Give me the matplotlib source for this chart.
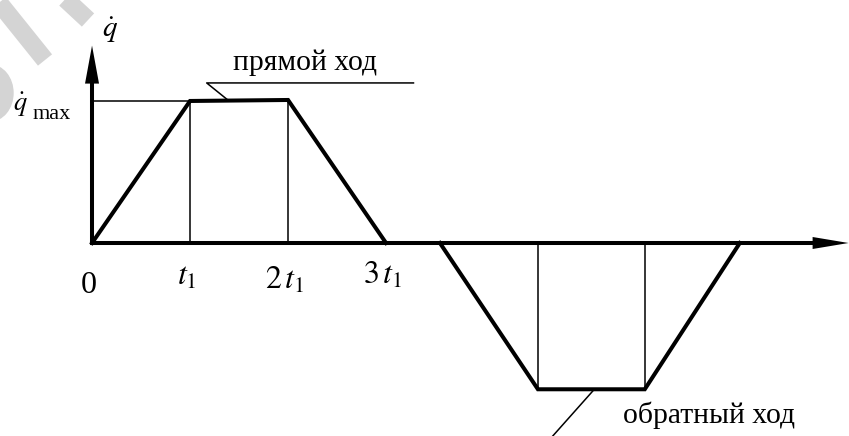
import matplotlib
matplotlib.use("Agg")
import matplotlib.pyplot as plt
from matplotlib.patches import Ellipse

plt.rcParams["font.family"] = ["Liberation Serif", "DejaVu Serif"]
plt.rcParams["mathtext.fontset"] = "stix"

# time in units of t1, velocity in units of q_max
t_forward = [0, 1, 2, 3]
q_forward = [0, 1.0, 1.007, 0]
t_reverse = [3.55, 4.55, 5.64, 6.61]
q_reverse = [0, -1.03, -1.03, 0]

tick_pos = [0, 1, 2, 3]
tick_labels = ["0", r"$t_1$", r"$2\,t_1$", r"$3\,t_1$"]
tick_dy = [-0.30, -0.245, -0.265, -0.23]

label_forward = "прямой ход"
label_reverse = "обратный ход"

W, H = 849, 436
fig = plt.figure(figsize=(W / 100, H / 100), dpi=100)
ax = fig.add_axes([0, 0, 1, 1])
ax.set_xlim(-0.939, 7.724)
ax.set_ylim(-1.359, 1.711)
ax.axis("off")

# pixels per data unit (used to size arrow heads)
sx = W / (7.724 + 0.939)
sy = H / (1.711 + 1.359)

# faint watermark strokes in the corner (pixel coords -> figure fraction)
def px(x, y):
    return x / W, 1 - y / H

wm = "#d4d4d4"
for (x0, y0), (x1, y1) in [((-8, -6), (45, 60)), ((60, -6), (88, 20))]:
    a, b = px(x0, y0), px(x1, y1)
    fig.add_artist(plt.Line2D([a[0], b[0]], [a[1], b[1]], lw=13, color=wm,
                              solid_capstyle="butt", zorder=0))
fig.add_artist(Ellipse(px(-10, 93), 46 / W, 56 / H, color=wm, zorder=0))

thick = 2.9
thin = 1.1

# axes with filled arrow heads
x_end, y_end = 7.72, 1.39
ax.plot([0, x_end - 30 / sx], [0, 0], color="black", lw=thick)
ax.plot([0, 0], [0, y_end - 32 / sy], color="black", lw=thick)
hl, hw = 36 / sx, 6 / sy
ax.fill([x_end, x_end - hl, x_end - hl], [0, hw, -hw], color="black", lw=0)
hl, hw = 38 / sy, 7 / sx
ax.fill([0, hw, -hw], [y_end, y_end - hl, y_end - hl], color="black", lw=0)

# velocity profile
ax.plot(t_forward, q_forward, color="black", lw=thick, solid_joinstyle="miter")
ax.plot(t_reverse, q_reverse, color="black", lw=thick, solid_joinstyle="miter")

# thin guides
ax.plot([0, t_forward[1]], [q_forward[1], q_forward[1]], color="black", lw=thin)
for i in (1, 2):
    ax.plot([t_forward[i]] * 2, [0, q_forward[i]], color="black", lw=thin)
    ax.plot([t_reverse[i]] * 2, [0, q_reverse[i]], color="black", lw=thin)

# leaders
ax.plot([3.28, 1.17, 1.38], [1.127, 1.127, 1.01], color="black", lw=thin)
ax.plot([5.11, 4.70], [-1.042, -1.36], color="black", lw=thin)

ax.text(2.17, 1.215, label_forward, fontsize=21.3, ha="center", va="baseline")
ax.text(6.30, -1.267, label_reverse, fontsize=21.3, ha="center", va="baseline")

for x, lab, dy in zip(tick_pos, tick_labels, tick_dy):
    ax.text(x - 0.03, dy, lab, fontsize=23, ha="center", va="center")

ax.text(0.18, 1.45, r"$\dot{q}$", fontsize=21, ha="center", va="baseline")
ax.text(-0.73, 0.93, r"$\dot{q}$", fontsize=19, ha="center", va="baseline")
ax.text(-0.61, 0.873, "max", fontsize=16, ha="left", va="baseline")

fig.savefig("out.png", dpi=100)
